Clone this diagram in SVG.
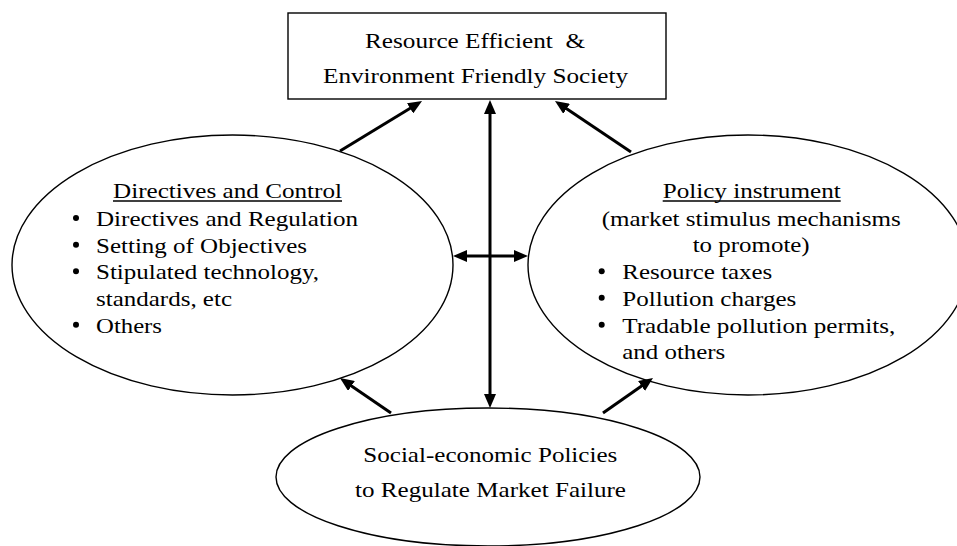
<svg xmlns="http://www.w3.org/2000/svg" width="957" height="546" viewBox="0 0 957 546" font-family="Liberation Serif, DejaVu Serif, Times New Roman, Times, serif">
<style>
text{font-family:"Liberation Serif","DejaVu Serif","Times New Roman",Times,serif;font-size:22px;fill:#000}
.shape{fill:#fff;stroke:#000;stroke-width:1.4}
.arr{stroke:#000;stroke-width:3;fill:none;marker-end:url(#ah)}
.dbl{stroke:#000;stroke-width:3;fill:none;marker-end:url(#ah);marker-start:url(#ah)}
.ul{stroke:#000;stroke-width:1.3}
.dot{fill:#000}
</style>
<defs>
<marker id="ah" markerUnits="userSpaceOnUse" markerWidth="14" markerHeight="12" refX="4" refY="6" orient="auto-start-reverse">
<path d="M0,0 L14,6 L0,12 z" fill="#000"/>
</marker>
</defs>
<rect width="957" height="546" fill="#fff"/>
<g id="top-box">
<rect class="shape" x="288" y="13" width="378" height="86"/>
<text x="365" y="48" textLength="220" lengthAdjust="spacingAndGlyphs">Resource Efficient &#160;&amp;</text>
<text x="323" y="82.5" textLength="305" lengthAdjust="spacingAndGlyphs">Environment Friendly Society</text>
</g>
<g id="directives">
<ellipse class="shape" cx="232.5" cy="265" rx="220.5" ry="130"/>
<text x="113" y="198" textLength="229" lengthAdjust="spacingAndGlyphs">Directives and Control</text>
<line class="ul" x1="113" y1="201" x2="342" y2="201"/>
<circle class="dot" cx="76" cy="218" r="3"/>
<text x="96" y="226" textLength="262" lengthAdjust="spacingAndGlyphs">Directives and Regulation</text>
<circle class="dot" cx="76" cy="244.7" r="3"/>
<text x="96" y="252.7" textLength="211" lengthAdjust="spacingAndGlyphs">Setting of Objectives</text>
<circle class="dot" cx="76" cy="271.3" r="3"/>
<text x="96" y="279.3" textLength="223" lengthAdjust="spacingAndGlyphs">Stipulated technology,</text>
<text x="96" y="305.7" textLength="136" lengthAdjust="spacingAndGlyphs">standards, etc</text>
<circle class="dot" cx="76" cy="324.7" r="3"/>
<text x="96" y="332.7" textLength="66" lengthAdjust="spacingAndGlyphs">Others</text>
</g>
<g id="policy">
<ellipse class="shape" cx="748" cy="265" rx="220" ry="130"/>
<text x="662.7" y="198" textLength="178" lengthAdjust="spacingAndGlyphs">Policy instrument</text>
<line class="ul" x1="662.7" y1="201" x2="840.7" y2="201"/>
<text x="601.7" y="226" textLength="299" lengthAdjust="spacingAndGlyphs">(market stimulus mechanisms</text>
<text x="692.7" y="252" textLength="117" lengthAdjust="spacingAndGlyphs">to promote)</text>
<circle class="dot" cx="601.7" cy="271.3" r="3"/>
<text x="622.3" y="279.3" textLength="150" lengthAdjust="spacingAndGlyphs">Resource taxes</text>
<circle class="dot" cx="601.7" cy="297.7" r="3"/>
<text x="622.3" y="305.7" textLength="174" lengthAdjust="spacingAndGlyphs">Pollution charges</text>
<circle class="dot" cx="601.7" cy="324.7" r="3"/>
<text x="622.3" y="332.7" textLength="273" lengthAdjust="spacingAndGlyphs">Tradable pollution permits,</text>
<text x="622.3" y="359.3" textLength="103" lengthAdjust="spacingAndGlyphs">and others</text>
</g>
<g id="social">
<ellipse class="shape" cx="488" cy="477" rx="212" ry="69"/>
<text x="363.3" y="461.7" textLength="254" lengthAdjust="spacingAndGlyphs">Social-economic Policies</text>
<text x="355" y="496.7" textLength="271" lengthAdjust="spacingAndGlyphs">to Regulate Market Failure</text>
</g>
<g id="connectors">
<line class="arr" x1="340" y1="151" x2="413.5" y2="106.2"/>
<line class="arr" x1="631" y1="152" x2="563.3" y2="106.6"/>
<line class="arr" x1="391" y1="413" x2="348.2" y2="383.7"/>
<line class="arr" x1="603" y1="413" x2="644.8" y2="383.7"/>
<line class="dbl" x1="490" y1="110" x2="490" y2="398"/>
<line class="dbl" x1="463" y1="256" x2="518" y2="256"/>
</g>
</svg>
